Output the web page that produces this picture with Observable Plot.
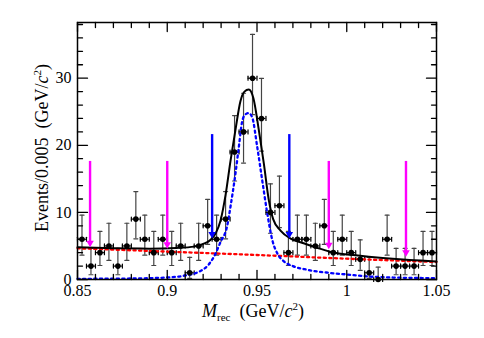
<!DOCTYPE html>
<html><head><meta charset="utf-8">
<script src="https://cdn.jsdelivr.net/npm/d3@7"></script>
<script src="https://cdn.jsdelivr.net/npm/@observablehq/plot@0.6"></script>
<style>body{margin:0;background:#fff}#chart{position:absolute;left:0;top:0}</style>
</head><body><div id="chart"></div>
<script>
// ---- data ----
const binCenter = [0.8525,0.8575,0.8625,0.8675,0.8725,0.8775,0.8825,0.8875,0.8925,0.8975,
  0.9025,0.9075,0.9125,0.9175,0.9225,0.9275,0.9325,0.9375,0.9425,0.9475,
  0.9525,0.9575,0.9625,0.9675,0.9725,0.9775,0.9825,0.9875,0.9925,0.9975,
  1.0025,1.0075,1.0125,1.0175,1.0225,1.0275,1.0325,1.0375,1.0425,1.0475];
const binHalfWidth = 0.0025;
const counts = [6,2,4,5,2,5,9,6,4,6, 4,5,1,5,8,6,9,19,22,30, 24,10,11,4,6,6,5,8,4,6, 4,3,1,0,6,2,2,2,4,4];
const errLow = [3.62,0.71,2.09,2.84,0.71,2.84,6.06,3.62,2.09,3.62, 2.09,2.84,0.17,2.84,5.23,3.62,6.06,14.68,17.35,24.56,
  19.14,6.89,7.74,2.09,3.62,3.62,2.84,5.23,2.09,3.62, 2.09,1.37,0.17,0,3.62,0.71,0.71,0.71,2.09,2.09];
const errHigh = [9.58,4.64,7.16,8.38,4.64,8.38,13.10,9.58,7.16,9.58, 7.16,8.38,3.30,8.38,11.94,9.58,13.10,24.43,27.76,36.53,
  29.96,14.26,15.41,7.16,9.58,9.58,8.38,11.94,7.16,9.58, 7.16,5.92,3.30,1.84,9.58,4.64,4.64,4.64,7.16,7.16];

const totalX = [0.850,0.870,0.890,0.905,0.915,0.920,0.924,0.927,0.9297,0.9325,0.9352,0.938,0.9408,0.943,0.9454,0.948,0.951,0.9538,0.9566,0.959,0.9631,0.9687,0.976,0.985,0.993,1.005,1.020,1.035,1.050];
const totalY = [4.8,4.65,4.6,4.7,4.9,5.3,5.9,6.9,8.8,12.6,17.6,22.3,26.6,28.0,28.3,27.0,22.3,17.3,11.8,9.0,7.3,6.1,5.4,4.6,4.0,3.6,3.2,2.9,2.7];
const sigX = [0.850,0.880,0.900,0.910,0.918,0.923,0.926,0.9297,0.9334,0.9352,0.938,0.9399,0.9417,0.9435,0.9454,0.9473,0.9501,0.9529,0.9557,0.9585,0.9615,0.965,0.970,0.978,0.990,1.000,1.012,1.025,1.050];
const sigY = [0.1,0.15,0.3,0.6,1.2,2.2,3.4,5.6,8.0,10.8,15.8,19.8,23.5,24.6,24.8,24.2,19.8,14.8,9.9,5.9,3.8,2.7,2.0,1.45,1.0,0.75,0.45,0.3,0.2];
const bkgX = [0.85,0.90,0.95,1.00,1.05];
const bkgY = [4.65,4.15,3.65,3.1,2.6];

const arrowX = [0.857,0.900,0.925,0.968,0.990,1.033];
const arrowTop = [17,17,21,21,17,17];
const arrowTip = [4.7,4.5,6.0,6.0,4.4,3.3];
const arrowKind = ["sideband","sideband","signal","signal","sideband","sideband"];

const xMajor = [0.85,0.90,0.95,1.00,1.05];
const xTickLabels = ["0.85","0.9","0.95","1","1.05"];
const xMinor = [0.86,0.87,0.88,0.89,0.91,0.92,0.93,0.94,0.96,0.97,0.98,0.99,1.01,1.02,1.03,1.04];
const yMajor = [0,10,20,30];
const yTickLabels = ["0","10","20","30"];
const yMinor = [2,4,6,8,12,14,16,18,22,24,26,28,32,34,36,38];

// ---- tables ----
const points = counts.map((n,i)=>({x:binCenter[i], x1:binCenter[i]-binHalfWidth, x2:binCenter[i]+binHalfWidth, n, lo:errLow[i], hi:errHigh[i]}));
const total = totalX.map((x,i)=>({x,y:totalY[i]}));
const sig = sigX.map((x,i)=>({x,y:sigY[i]}));
const bkg = bkgX.map((x,i)=>({x,y:bkgY[i]}));
const arrows = arrowX.map((x,i)=>({x, top:arrowTop[i], tip:arrowTip[i], kind:arrowKind[i]}));
const arrowColor = {sideband:"#ff00ff", signal:"#0000ff"};

const serif = "'Liberation Serif', 'DejaVu Serif', serif";
const segment = {draw(ctx, l){ ctx.moveTo(0,0); ctx.lineTo(0,-l); }};
const seg = (data, opts) => Plot.vector(data, {shape:segment, stroke:"black", strokeWidth:1.3, ...opts});
const tick = (data, opts) => seg(data, {anchor:"start", ...opts});

const chart = Plot.plot({
  width: 484, height: 338,
  marginLeft: 77, marginRight: 48, marginTop: 22, marginBottom: 59,
  style: {background:"white", color:"black"},
  x: {domain:[0.85,1.05]},
  y: {domain:[0,38.3]},
  marks: [
    // error bars
    Plot.ruleX(points, {x:"x", y1:"lo", y2:"hi", stroke:"#444", strokeWidth:1.2}),
    seg(points, {x:"x", y:"lo", rotate:90, length:4, anchor:"middle", stroke:"#444", strokeWidth:1.2}),
    seg(points, {x:"x", y:"hi", rotate:90, length:4, anchor:"middle", stroke:"#444", strokeWidth:1.2}),
    Plot.ruleY(points, {y:"n", x1:"x1", x2:"x2", stroke:"black", strokeWidth:1.2}),
    seg(points, {x:"x1", y:"n", rotate:0, length:4, anchor:"middle", strokeWidth:1.2}),
    seg(points, {x:"x2", y:"n", rotate:0, length:4, anchor:"middle", strokeWidth:1.2}),
    // fit curves
    Plot.line(bkg, {x:"x", y:"y", stroke:"#ff0000", strokeWidth:2.3, strokeDasharray:"2.2,3.4", curve:"monotone-x"}),
    Plot.line(sig, {x:"x", y:"y", stroke:"#0000ff", strokeWidth:2.3, strokeDasharray:"2.2,3.4", curve:"monotone-x"}),
    Plot.line(total, {x:"x", y:"y", stroke:"black", strokeWidth:2, curve:"monotone-x"}),
    Plot.dot(points, {x:"x", y:"n", r:2.8, fill:"black"}),
    // arrows
    Plot.ruleX(arrows, {x:"x", y1:"top", y2:"tip", stroke:d=>arrowColor[d.kind], strokeWidth:2.4, dy:-4}),
    Plot.dot(arrows, {x:"x", y:"tip", symbol:"triangle", rotate:180, r:2.8, fill:d=>arrowColor[d.kind], stroke:"none", dy:-5}),
    // frame & ticks
    Plot.frame({stroke:"black", strokeWidth:1.5}),
    tick(xMajor, {x:d=>d, frameAnchor:"bottom", rotate:0, length:9}),
    tick(xMinor, {x:d=>d, frameAnchor:"bottom", rotate:0, length:5}),
    tick(xMajor, {x:d=>d, frameAnchor:"top", rotate:180, length:9}),
    tick(xMinor, {x:d=>d, frameAnchor:"top", rotate:180, length:5}),
    tick(yMajor, {y:d=>d, frameAnchor:"left", rotate:90, length:10}),
    tick(yMinor, {y:d=>d, frameAnchor:"left", rotate:90, length:5}),
    tick(yMajor, {y:d=>d, frameAnchor:"right", rotate:-90, length:10}),
    tick(yMinor, {y:d=>d, frameAnchor:"right", rotate:-90, length:5}),
    Plot.axisX(xMajor, {tickSize:0, tickPadding:5, tickFormat:d=>xTickLabels[xMajor.indexOf(d)], fontSize:16, fontFamily:serif, label:null}),
    Plot.axisY(yMajor, {tickSize:0, tickPadding:6, tickFormat:d=>yTickLabels[yMajor.indexOf(d)], fontSize:16, fontFamily:serif, label:null})
  ]
});
document.getElementById("chart").appendChild(chart);

// axis titles with italic / sub / superscripts
const svg = d3.select(chart);
const xt = svg.append("text").attr("x", 253).attr("y", 317).attr("text-anchor","middle")
  .attr("font-family", serif).attr("font-size", 18).attr("fill","black");
xt.append("tspan").attr("font-style","italic").text("M");
xt.append("tspan").attr("font-size", 11).attr("dy", 4).text("rec");
xt.append("tspan").attr("dy", -4).text("\u2002(GeV/");
xt.append("tspan").attr("font-style","italic").text("c");
xt.append("tspan").attr("font-size", 11).attr("dy", -7).text("2");
xt.append("tspan").attr("dy", 7).text(")");

const yt = svg.append("text").attr("transform","translate(48,148) rotate(-90)").attr("text-anchor","middle")
  .attr("font-family", serif).attr("font-size", 18).attr("fill","black");
yt.append("tspan").text("Events/0.005\u2002(GeV/");
yt.append("tspan").attr("font-style","italic").text("c");
yt.append("tspan").attr("font-size", 11).attr("dy", -7).text("2");
yt.append("tspan").attr("dy", 7).text(")");
</script>
</body></html>
